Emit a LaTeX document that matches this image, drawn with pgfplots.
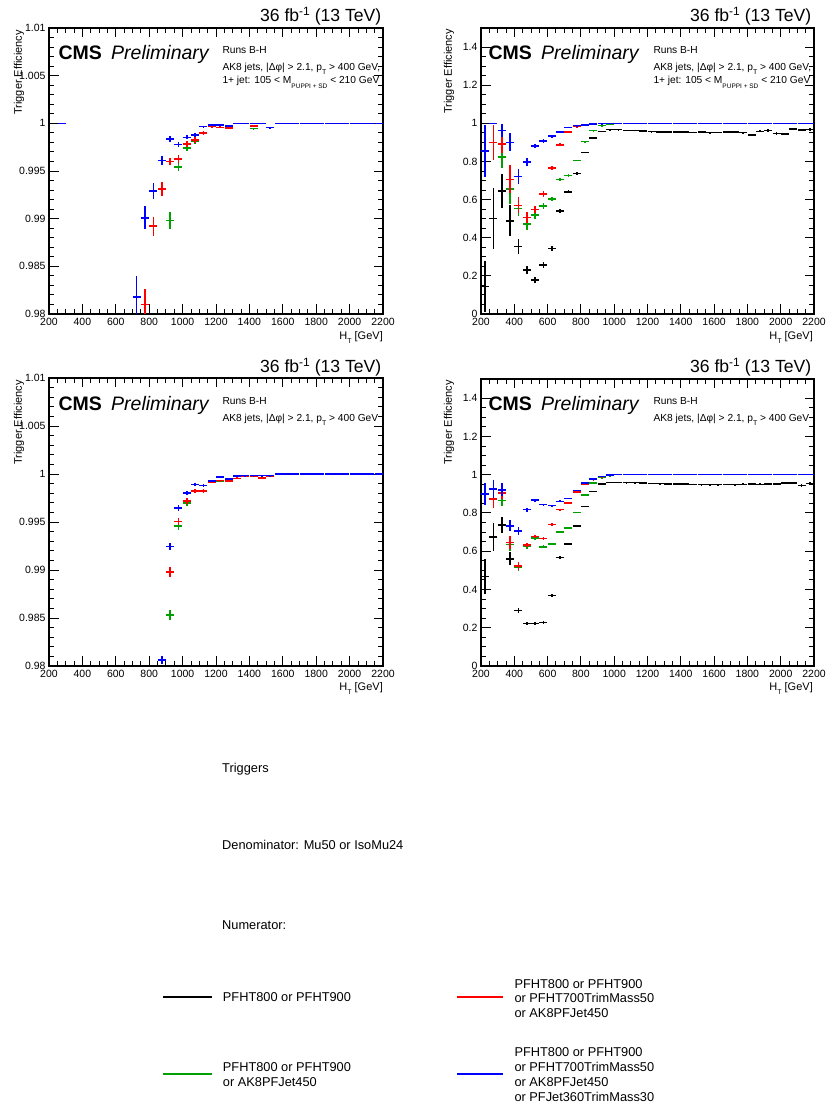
\documentclass[border=0pt]{standalone}
\usepackage{pgfplots}
\pgfplotsset{compat=1.18}
\usepackage{fontspec}
\setmainfont{Liberation Sans}
\definecolor{cmsgreen}{RGB}{0,160,0}
\definecolor{cmsred}{RGB}{255,0,0}
\definecolor{cmsblue}{RGB}{0,0,255}
\newcommand{\FS}[1]{\fontsize{#1}{#1}\selectfont}
\newcommand{\lsub}[1]{\raisebox{-4pt}{\FS{7}#1}}
\pgfplotsset{
 cmsax/.style={scale only axis, anchor=south west, xmin=200, xmax=2200,
   xtick={200,400,600,800,1000,1200,1400,1600,1800,2000,2200},
   xticklabels={200,400,600,800,1000,1200,1400,1600,1800,2000,2200},
   minor x tick num=3, tick align=inside, tick pos=both,
   major tick length=9.5pt, minor tick length=4.8pt,
   every tick/.style={black, line width=0.9pt},
   axis line style={line width=1.3pt},
   ticklabel style={font=\FS{10.5}},
   xticklabel style={yshift=-1pt},
   clip=true},
 effax/.style={ymin=0, ymax=1.5, ytick={0,0.2,0.4,0.6,0.8,1,1.2,1.4},
   yticklabels={0,0.2,0.4,0.6,0.8,1,1.2,1.4}, minor y tick num=3},
 zoomax/.style={ymin=0.98, ymax=1.01, ytick={0.98,0.985,0.99,0.995,1,1.005,1.01},
   yticklabels={0.98,0.985,0.99,0.995,1,1.005,1.01}, minor y tick num=4},
 eb/.style={only marks, mark=*, mark size=0pt, mark options={draw opacity=0, fill opacity=0},
   color=#1, error bars/.cd, x dir=both, x fixed=24,
   y dir=both, y explicit, error mark=none, error bar style={line width=1.6pt, draw=#1}},
}
\begin{document}
\begin{tikzpicture}[x=1pt,y=1pt]
\path[use as bounding box] (0,0) rectangle (827,1107);

%================ TOP LEFT =================
\begin{axis}[cmsax, zoomax, at={(49pt,793pt)}, width=334pt, height=286pt]
\addplot[eb=cmsgreen] table[x index=0,y index=1,y error index=2] {
925 0.9898 0.0009
975 0.99539 0.0004
1025 0.99738 0.0003
1075 0.9981 0.0003
1125 0.9990 0.0002
1175 0.99965 0.0001
1225 0.99958 0.0001
1275 0.9995 0.0001
1325 1 0
1375 1 0
1425 0.99945 0.0001
1475 1 0
1525 0.99955 0.0001
1575 1 0
1625 1 0
1675 1 0
1725 1 0
1775 1 0
1825 1 0
1875 1 0
1925 1 0
1975 1 0
2025 1 0
2075 1 0
2125 1 0
2175 1 0
};
\addplot[eb=cmsred] table[x index=0,y index=1,y error index=2] {
775 0.9810 0.0016
825 0.9892 0.0010
875 0.9931 0.0007
925 0.99598 0.0004
975 0.99626 0.0004
1025 0.99784 0.0003
1075 0.99826 0.0003
1125 0.99899 0.0002
1175 0.99965 0.0001
1225 0.99958 0.0001
1275 0.9995 0.0001
1325 1 0
1375 1 0
1425 0.99975 0.0001
1475 1 0
1525 0.99955 0.0001
1575 1 0
1625 1 0
1675 1 0
1725 1 0
1775 1 0
1825 1 0
1875 1 0
1925 1 0
1975 1 0
2025 1 0
2075 1 0
2125 1 0
2175 1 0
};
\addplot[eb=cmsblue] table[x index=0,y index=1,y error index=2] {
275 1 0
725 0.9818 0.0022
775 0.9901 0.0012
825 0.9929 0.0008
875 0.99611 0.0005
925 0.99836 0.0003
975 0.99777 0.0003
1025 0.99853 0.0002
1075 0.99878 0.0002
1125 0.99965 0.0001
1175 0.9998 0.0001
1225 0.9998 0.0001
1275 0.9997 0.0001
1325 1 0
1375 1 0
1425 1 0
1475 1 0
1525 0.99955 0.0001
1575 1 0
1625 1 0
1675 1 0
1725 1 0
1775 1 0
1825 1 0
1875 1 0
1925 1 0
1975 1 0
2025 1 0
2075 1 0
2125 1 0
2175 1 0
};
\end{axis}

%================ TOP RIGHT =================
\begin{axis}[cmsax, effax, at={(481pt,793pt)}, width=333pt, height=286pt]
\addplot[eb=black] table[x index=0,y index=1,y error index=2] {
225 0.144 0.135
275 0.500 0.16
325 0.645 0.09
375 0.489 0.08
425 0.353 0.038
475 0.231 0.022
525 0.179 0.016
575 0.257 0.016
625 0.344 0.012
675 0.541 0.010
725 0.640 0.008
775 0.737 0.006
825 0.847 0.005
875 0.922 0.004
925 0.958 0.003
975 0.967 0.003
1025 0.967 0.003
1075 0.963 0.003
1125 0.963 0.003
1175 0.961 0.003
1225 0.957 0.003
1275 0.956 0.003
1325 0.955 0.003
1375 0.955 0.003
1425 0.954 0.003
1475 0.952 0.003
1525 0.953 0.004
1575 0.951 0.004
1625 0.952 0.004
1675 0.954 0.004
1725 0.953 0.005
1775 0.951 0.005
1825 0.940 0.005
1875 0.958 0.005
1925 0.962 0.006
1975 0.946 0.006
2025 0.945 0.006
2075 0.970 0.006
2125 0.966 0.006
2175 0.968 0.006
};
\addplot[eb=cmsgreen] table[x index=0,y index=1,y error index=2] {
225 0.855 0.135
275 0.900 0.09
325 0.823 0.056
375 0.657 0.078
425 0.553 0.04
475 0.471 0.03
525 0.518 0.018
575 0.565 0.015
625 0.602 0.012
675 0.706 0.008
725 0.727 0.007
775 0.805 0.005
825 0.904 0.004
875 0.962 0.003
925 0.988 0.002
975 0.996 0.001
1025 1 0
1075 1 0
1125 1 0
1175 1 0
1225 1 0
1275 1 0
1325 1 0
1375 1 0
1425 1 0
1475 1 0
1525 1 0
1575 1 0
1625 1 0
1675 1 0
1725 1 0
1775 1 0
1825 1 0
1875 1 0
1925 1 0
1975 1 0
2025 1 0
2075 1 0
2125 1 0
2175 1 0
};
\addplot[eb=cmsred] table[x index=0,y index=1,y error index=2] {
225 0.855 0.135
275 0.900 0.09
325 0.892 0.048
375 0.706 0.074
425 0.570 0.041
475 0.506 0.03
525 0.548 0.02
575 0.628 0.015
625 0.765 0.01
675 0.887 0.008
725 0.953 0.006
775 0.983 0.004
825 0.990 0.003
875 0.995 0.002
925 0.999 0.001
975 1 0
1025 1 0
1075 1 0
1125 1 0
1175 1 0
1225 1 0
1275 1 0
1325 1 0
1375 1 0
1425 1 0
1475 1 0
1525 1 0
1575 1 0
1625 1 0
1675 1 0
1725 1 0
1775 1 0
1825 1 0
1875 1 0
1925 1 0
1975 1 0
2025 1 0
2075 1 0
2125 1 0
2175 1 0
};
\addplot[eb=cmsblue] table[x index=0,y index=1,y error index=2] {
225 0.855 0.135
275 1.000 0
325 0.962 0.033
375 0.900 0.047
425 0.722 0.040
475 0.797 0.02
525 0.880 0.012
575 0.908 0.01
625 0.932 0.008
675 0.953 0.006
725 0.979 0.004
775 0.988 0.003
825 0.991 0.002
875 0.995 0.002
925 0.998 0.001
975 1 0
1025 1 0
1075 1 0
1125 1 0
1175 1 0
1225 1 0
1275 1 0
1325 1 0
1375 1 0
1425 1 0
1475 1 0
1525 1 0
1575 1 0
1625 1 0
1675 1 0
1725 1 0
1775 1 0
1825 1 0
1875 1 0
1925 1 0
1975 1 0
2025 1 0
2075 1 0
2125 1 0
2175 1 0
};
\end{axis}

%================ BOTTOM LEFT =================
\begin{axis}[cmsax, zoomax, at={(49pt,441pt)}, width=334pt, height=288pt]
\addplot[eb=cmsgreen] table[x index=0,y index=1,y error index=2] {
925 0.98533 0.0005
975 0.99456 0.0004
1025 0.9970 0.0003
1075 0.9982 0.0002
1125 0.9982 0.0002
1175 0.99914 0.0001
1225 0.9993 0.0001
1275 0.9993 0.0001
1325 0.99955 0.0001
1375 0.99975 0.0001
1425 0.99975 0.0001
1475 0.9996 0.0001
1525 0.9998 0.0001
1575 1 0
1625 1 0
1675 1 0
1725 1 0
1775 1 0
1825 1 0
1875 1 0
1925 1 0
1975 1 0
2025 1 0
2075 1 0
2125 1 0
2175 1 0
};
\addplot[eb=cmsred] table[x index=0,y index=1,y error index=2] {
925 0.98976 0.0005
975 0.99505 0.0004
1025 0.99717 0.0003
1075 0.9982 0.0002
1125 0.9982 0.0002
1175 0.99914 0.0001
1225 0.99931 0.0001
1275 0.9993 0.0001
1325 0.99955 0.0001
1375 0.9998 0.0001
1425 0.9998 0.0001
1475 0.9996 0.0001
1525 0.9998 0.0001
1575 1 0
1625 1 0
1675 1 0
1725 1 0
1775 1 0
1825 1 0
1875 1 0
1925 1 0
1975 1 0
2025 1 0
2075 1 0
2125 1 0
2175 1 0
};
\addplot[eb=cmsblue] table[x index=0,y index=1,y error index=2] {
875 0.98063 0.0004
925 0.99244 0.0004
975 0.99645 0.0003
1025 0.9980 0.0002
1075 0.9989 0.0002
1125 0.9988 0.0002
1175 0.99924 0.0001
1225 0.99966 0.0001
1275 0.99948 0.0001
1325 0.99976 0.0001
1375 0.99983 0.0001
1425 0.99983 0.0001
1475 0.99983 0.0001
1525 0.99983 0.0001
1575 1 0
1625 1 0
1675 1 0
1725 1 0
1775 1 0
1825 1 0
1875 1 0
1925 1 0
1975 1 0
2025 1 0
2075 1 0
2125 1 0
2175 1 0
};
\end{axis}

%================ BOTTOM RIGHT =================
\begin{axis}[cmsax, effax, at={(481pt,441pt)}, width=333pt, height=287pt]
\addplot[eb=black] table[x index=0,y index=1,y error index=2] {
225 0.468 0.09
275 0.674 0.074
325 0.738 0.042
375 0.560 0.034
425 0.290 0.012
475 0.223 0.008
525 0.222 0.008
575 0.227 0.008
625 0.368 0.006
675 0.567 0.006
725 0.639 0.005
775 0.733 0.004
825 0.834 0.004
875 0.913 0.003
925 0.951 0.003
975 0.960 0.003
1025 0.960 0.003
1075 0.959 0.003
1125 0.958 0.003
1175 0.957 0.003
1225 0.954 0.003
1275 0.953 0.003
1325 0.952 0.003
1375 0.951 0.003
1425 0.950 0.003
1475 0.949 0.003
1525 0.948 0.004
1575 0.948 0.004
1625 0.948 0.004
1675 0.949 0.004
1725 0.948 0.004
1775 0.949 0.005
1825 0.950 0.005
1875 0.949 0.005
1925 0.951 0.005
1975 0.952 0.005
2025 0.955 0.006
2075 0.955 0.006
2125 0.943 0.006
2175 0.954 0.006
};
\addplot[eb=cmsgreen] table[x index=0,y index=1,y error index=2] {
225 0.900 0.056
275 0.874 0.048
325 0.864 0.03
375 0.634 0.035
425 0.515 0.02
475 0.625 0.012
525 0.668 0.01
575 0.623 0.008
625 0.639 0.006
675 0.700 0.005
725 0.721 0.004
775 0.803 0.004
825 0.895 0.003
875 0.956 0.002
925 0.985 0.002
975 0.995 0.001
1025 1 0
1075 1 0
1125 1 0
1175 1 0
1225 1 0
1275 1 0
1325 1 0
1375 1 0
1425 1 0
1475 1 0
1525 1 0
1575 1 0
1625 1 0
1675 1 0
1725 1 0
1775 1 0
1825 1 0
1875 1 0
1925 1 0
1975 1 0
2025 1 0
2075 1 0
2125 1 0
2175 1 0
};
\addplot[eb=cmsred] table[x index=0,y index=1,y error index=2] {
225 0.900 0.056
275 0.874 0.048
325 0.904 0.03
375 0.646 0.035
425 0.524 0.02
475 0.632 0.012
525 0.677 0.01
575 0.667 0.008
625 0.740 0.006
675 0.817 0.005
725 0.853 0.004
775 0.909 0.004
825 0.951 0.003
875 0.974 0.002
925 0.990 0.002
975 0.997 0.001
1025 1 0
1075 1 0
1125 1 0
1175 1 0
1225 1 0
1275 1 0
1325 1 0
1375 1 0
1425 1 0
1475 1 0
1525 1 0
1575 1 0
1625 1 0
1675 1 0
1725 1 0
1775 1 0
1825 1 0
1875 1 0
1925 1 0
1975 1 0
2025 1 0
2075 1 0
2125 1 0
2175 1 0
};
\addplot[eb=cmsblue] table[x index=0,y index=1,y error index=2] {
225 0.900 0.056
275 0.925 0.045
325 0.921 0.035
375 0.733 0.03
425 0.707 0.02
475 0.817 0.01
525 0.866 0.008
575 0.843 0.006
625 0.838 0.006
675 0.860 0.005
725 0.876 0.004
775 0.918 0.004
825 0.955 0.003
875 0.977 0.002
925 0.991 0.002
975 0.997 0.001
1025 1 0
1075 1 0
1125 1 0
1175 1 0
1225 1 0
1275 1 0
1325 1 0
1375 1 0
1425 1 0
1475 1 0
1525 1 0
1575 1 0
1625 1 0
1675 1 0
1725 1 0
1775 1 0
1825 1 0
1875 1 0
1925 1 0
1975 1 0
2025 1 0
2075 1 0
2125 1 0
2175 1 0
};
\end{axis}

%================ TEXT =================
\foreach \xr/\xl/\xs/\yo in {383/58.3/222.3/0, 813/488.3/653.3/0, 383/58.3/222.3/351, 813/488.3/653.3/351}{
  \node[anchor=base east, inner sep=0pt, font=\FS{17.6}] at (\xr-1.5, 1085.3-\yo) {36 fb\raisebox{6.5pt}{\FS{12}-1} (13 TeV)};
  \node[anchor=base west, inner sep=0pt, font=\FS{19.5}\bfseries] at (\xl, 1047.7-\yo) {CMS};
  \node[anchor=base west, inner sep=0pt, font=\FS{19.5}\itshape] at (\xl+52.7, 1047.7-\yo) {Preliminary};
  \node[anchor=base west, inner sep=0pt, font=\FS{10.2}] at (\xs, 1053.7-\yo) {Runs B-H};
  \node[anchor=base west, inner sep=0pt, font=\FS{10.2}] at (\xs, 1036.3-\yo) {AK8 jets, |Δφ| > 2.1, p\lsub{T} > 400 GeV\ifdim\yo pt=0pt,\fi};
  \node[anchor=base east, inner sep=0pt, font=\FS{11}] at (\xr, 767-\yo) {H\lsub{T} [GeV]};
}
\node[anchor=base west, inner sep=0pt, font=\FS{10.2}] at (222.3, 1023) {1+ jet: 105 < M\raisebox{-5pt}{\FS{6.5}PUPPI + SD} < 210 GeV};
\node[anchor=base west, inner sep=0pt, font=\FS{10.2}] at (653.3, 1023) {1+ jet: 105 < M\raisebox{-5pt}{\FS{6.5}PUPPI + SD} < 210 GeV};
\node[rotate=90, anchor=east, inner sep=0pt, font=\FS{11}] at (19, 1077) {Trigger Efficiency};
\node[rotate=90, anchor=east, inner sep=0pt, font=\FS{11}] at (449, 1078) {Trigger Efficiency};
\node[rotate=90, anchor=east, inner sep=0pt, font=\FS{11}] at (19, 727) {Trigger Efficiency};
\node[rotate=90, anchor=east, inner sep=0pt, font=\FS{11}] at (449, 727) {Trigger Efficiency};

%================ LEGEND =================
\node[anchor=base west, inner sep=0pt, font=\FS{12.8}] at (222, 334) {Triggers};
\node[anchor=base west, inner sep=0pt, font=\FS{12.8}] at (222, 257) {Denominator: Mu50 or IsoMu24};
\node[anchor=base west, inner sep=0pt, font=\FS{12.8}] at (222, 177) {Numerator:};
\draw[draw=black, line width=1.5pt] (163,110) -- (212,110);
\draw[draw=cmsgreen, line width=1.5pt] (163,33) -- (212,33);
\draw[draw=cmsred, line width=1.5pt] (457,110) -- (503,110);
\draw[draw=cmsblue, line width=1.5pt] (457,33) -- (503,33);
\node[anchor=west, inner sep=0pt, align=left, font=\fontsize{12.8}{14.6}\selectfont] at (222.7,109.7) {PFHT800 or PFHT900};
\node[anchor=west, inner sep=0pt, align=left, font=\fontsize{12.8}{14.6}\selectfont] at (222.7,32.5) {PFHT800 or PFHT900\\or AK8PFJet450};
\node[anchor=west, inner sep=0pt, align=left, font=\fontsize{12.8}{14.6}\selectfont] at (514.3,108.5) {PFHT800 or PFHT900\\or PFHT700TrimMass50\\or AK8PFJet450};
\node[anchor=west, inner sep=0pt, align=left, font=\fontsize{12.8}{14.9}\selectfont] at (514.3,32.3) {PFHT800 or PFHT900\\or PFHT700TrimMass50\\or AK8PFJet450\\or PFJet360TrimMass30};
\end{tikzpicture}
\end{document}
